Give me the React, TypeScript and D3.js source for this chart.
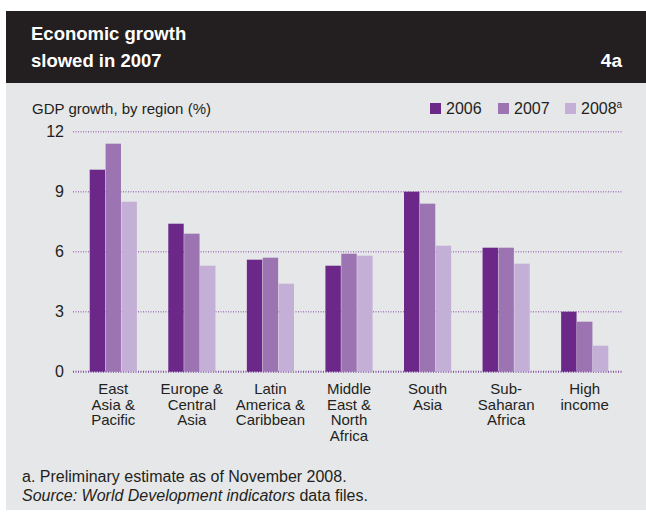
import React from "react";
import * as d3 from "d3";

const categories: string[][] = [
  ["East", "Asia &", "Pacific"],
  ["Europe &", "Central", "Asia"],
  ["Latin", "America &", "Caribbean"],
  ["Middle", "East &", "North", "Africa"],
  ["South", "Asia"],
  ["Sub-", "Saharan", "Africa"],
  ["High", "income"],
];
const seriesNames = ["2006", "2007", "2008"];
const v2006 = [10.1, 7.4, 5.6, 5.3, 9.0, 6.2, 3.0];
const v2007 = [11.4, 6.9, 5.7, 5.9, 8.4, 6.2, 2.5];
const v2008 = [8.5, 5.3, 4.4, 5.8, 6.3, 5.4, 1.3];
const yTicks = [0, 3, 6, 9, 12];
const colors = ["#6c2889", "#9b74b1", "#c4afd6"];

const W = 646;
const H = 515;
const FONT = "'Liberation Sans', Arial, sans-serif";

export default function App() {
  const series = [v2006, v2007, v2008];
  const x0 = d3
    .scaleBand<number>()
    .domain(d3.range(categories.length))
    .range([74, 624])
    .paddingInner(0.4)
    .paddingOuter(0.2);
  const x1 = d3
    .scaleBand<number>()
    .domain([0, 1, 2])
    .range([0, x0.bandwidth()])
    .paddingInner(0.03);
  const y = d3.scaleLinear().domain([0, 12]).range([371.7, 131.7]);

  return (
    <svg
      width={W}
      height={H}
      style={{ position: "absolute", left: 0, top: 0, display: "block" }}
      fontFamily={FONT}
    >
      <rect x={0} y={0} width={W} height={H} fill="#ffffff" />
      <rect x={6} y={11} width={W - 6} height={72} fill="#231f20" />
      <rect x={6} y={83} width={W - 6} height={427} fill="#e6e7e9" />
      <text x={31} y={40} fill="#ffffff" fontSize={18.5} fontWeight="bold">
        Economic growth
      </text>
      <text x={31} y={67} fill="#ffffff" fontSize={18.5} fontWeight="bold">
        slowed in 2007
      </text>
      <text x={622} y={67} fill="#ffffff" fontSize={19} fontWeight="bold" textAnchor="end">
        4a
      </text>

      <text x={32} y={114} fill="#231f20" fontSize={15}>
        GDP growth, by region (%)
      </text>

      {/* legend */}
      {seriesNames.map((s, i) => {
        const lx = [430, 498, 565][i];
        return (
          <g key={s}>
            <rect x={lx} y={103} width={11} height={11} fill={colors[i]} />
            <text x={lx + 16} y={114} fontSize={16} fill="#231f20">
              {s}
              {i === 2 ? (
                <tspan fontSize={10} dy={-6}>
                  a
                </tspan>
              ) : null}
            </text>
          </g>
        );
      })}

      {/* grid */}
      {yTicks.map((t) => (
        <g key={t}>
          <line
            x1={73}
            x2={623}
            y1={y(t)}
            y2={y(t)}
            stroke={t === 0 ? "#7e4a9c" : "#a67cbd"}
            strokeWidth={t === 0 ? 2 : 1.5}
            strokeDasharray="1,1.5"
          />
          <text x={64} y={y(t) + 5.5} textAnchor="end" fontSize={16} fill="#231f20">
            {t}
          </text>
        </g>
      ))}

      {/* bars */}
      {categories.map((c, ci) => (
        <g key={ci} transform={`translate(${x0(ci)},0)`}>
          {series.map((vals, si) => (
            <rect
              key={si}
              x={x1(si)}
              y={y(vals[ci])}
              width={x1.bandwidth()}
              height={y(0) - y(vals[ci])}
              fill={colors[si]}
            />
          ))}
        </g>
      ))}

      {/* category labels */}
      {categories.map((lines, ci) => (
        <text
          key={ci}
          x={(x0(ci) as number) + x0.bandwidth() / 2}
          textAnchor="middle"
          fontSize={15}
          fill="#231f20"
        >
          {lines.map((l, li) => (
            <tspan key={li} x={(x0(ci) as number) + x0.bandwidth() / 2} y={394 + li * 15.7}>
              {l}
            </tspan>
          ))}
        </text>
      ))}

      {/* footer */}
      <text x={22} y={482} fontSize={16} fill="#231f20">
        a. Preliminary estimate as of November 2008.
      </text>
      <text x={22} y={501} fontSize={16} fill="#231f20">
        <tspan fontStyle="italic">Source: World Development indicators</tspan> data files.
      </text>
    </svg>
  );
}
